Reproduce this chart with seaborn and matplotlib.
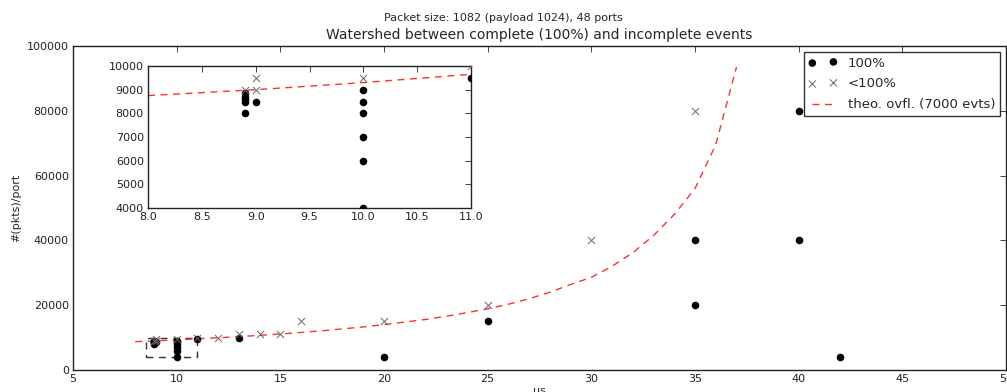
import numpy as np
import pandas as pd
import matplotlib
matplotlib.use('Agg')
import matplotlib.pyplot as plt
import seaborn as sns

# ---- data ----
x_full = [8.9, 8.9, 8.9, 8.9, 8.9, 9.0, 10, 10, 10, 10, 10, 10, 11, 13, 20, 25, 35, 35, 40, 40, 42]
y_full = [8000, 8500, 8600, 8700, 8850, 8500, 4000, 6000, 7000, 8000, 8500, 9000, 9500, 10000,
          4000, 15000, 20000, 40000, 40000, 80000, 4000]

x_part = [8.9, 9.0, 9.0, 10, 11, 12, 13, 14, 15, 16, 20, 25, 30, 35]
y_part = [9000, 9000, 9500, 9500, 10000, 10000, 11000, 11000, 11000, 15000, 15000, 20000, 40000, 80000]

x_theo = [8, 9, 10, 11, 12, 13, 14, 15, 16, 17, 18, 19, 20, 21, 22, 23, 24, 25, 26, 27,
          28, 29, 30, 31, 32, 33, 34, 35, 36, 37]
y_theo = [8750, 9000, 9300, 9650, 9950, 10300, 10700, 11100, 11600, 12100, 12700, 13300, 14000,
          14800, 15600, 16600, 17700, 18900, 20300, 22000, 24000, 26400, 28600, 32000, 36200,
          41500, 48000, 56000, 69500, 93500]

zoom_x = [8.5, 11]
zoom_y = [4000, 10000]

df_full = pd.DataFrame({'us': x_full, 'pkts': y_full})
df_part = pd.DataFrame({'us': x_part, 'pkts': y_part})
df_theo = pd.DataFrame({'us': x_theo, 'pkts': y_theo})

sns.set_theme(style='white')
plt.rcParams['font.family'] = ['DejaVu Sans']
plt.rcParams.update({
    'xtick.direction': 'in', 'ytick.direction': 'in',
    'xtick.top': True, 'ytick.right': True,
    'xtick.major.size': 4, 'ytick.major.size': 4,
    'xtick.major.width': 0.6, 'ytick.major.width': 0.6,
    'axes.edgecolor': '#222222', 'axes.linewidth': 1.0,
    'xtick.color': '#222222', 'ytick.color': '#222222',
    'xtick.labelsize': 8, 'ytick.labelsize': 8,
    'xtick.major.pad': 3, 'ytick.major.pad': 3,
})

fig = plt.figure(figsize=(10.07, 3.92), dpi=100)
ax = fig.add_axes([0.0725, 0.0561, 0.9265, 0.8266])


def draw(a, with_labels):
    sns.scatterplot(data=df_full, x='us', y='pkts', ax=a, color='black', marker='o', s=30,
                    edgecolor='black', linewidth=0, label='100%' if with_labels else None, zorder=3)
    sns.scatterplot(data=df_part, x='us', y='pkts', ax=a, color='#666666', marker='x', s=26,
                    linewidth=0.7, label='<100%' if with_labels else None, zorder=3)
    sns.lineplot(data=df_theo, x='us', y='pkts', ax=a, color='#ff3030', linestyle='--',
                 dashes=False, linewidth=1.0,
                 label='theo. ovfl. (7000 evts)' if with_labels else None, zorder=2)
    a.lines[-1].set_dashes((5, 4))


draw(ax, True)

# zoomed region marker
ax.plot([zoom_x[0], zoom_x[1], zoom_x[1], zoom_x[0], zoom_x[0]],
        [zoom_y[0], zoom_y[0], zoom_y[1], zoom_y[1], zoom_y[0]],
        color='#333333', linewidth=1.0, dashes=(5, 4), zorder=1)

ax.set_xlim(5, 50)
ax.set_ylim(0, 100000)
ax.set_xticks(np.arange(5, 51, 5))
ax.set_yticks(np.arange(0, 100001, 20000))
ax.set_xlabel('us', fontsize=8, labelpad=1)
ax.set_ylabel('#(pkts)/port', fontsize=8, labelpad=4)
ax.set_title('Watershed between complete (100%) and incomplete events', fontsize=10, pad=5)
fig.suptitle('Packet size: 1082 (payload 1024), 48 ports', fontsize=8, y=0.966)

leg = ax.legend(loc='upper right', scatterpoints=2, numpoints=2, fontsize=9.5,
                frameon=True, fancybox=False, borderaxespad=0.45, handlelength=2.2,
                labelspacing=0.6, borderpad=0.35)
leg.get_frame().set_edgecolor('black')
leg.get_frame().set_linewidth(1.0)

# inset
axin = fig.add_axes([0.147, 0.4694, 0.3208, 0.3622])
draw(axin, False)
axin.set_xlim(8, 11)
axin.set_ylim(4000, 10000)
axin.set_xticks(np.arange(8, 11.01, 0.5))
axin.set_xticklabels([f'{v:.1f}' for v in np.arange(8, 11.01, 0.5)])
axin.set_yticks(np.arange(4000, 10001, 1000))
axin.set_xlabel('')
axin.set_ylabel('')

fig.savefig('out.png', dpi=100)
